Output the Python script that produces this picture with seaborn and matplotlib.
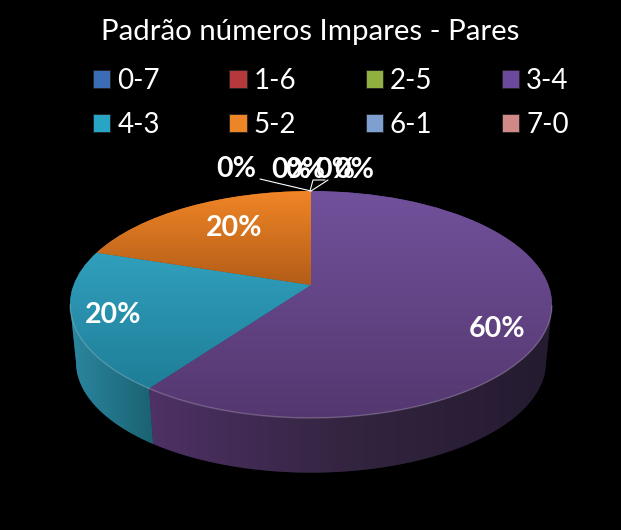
import numpy as np
import matplotlib
matplotlib.use("Agg")
import matplotlib.pyplot as plt
import seaborn as sns
from matplotlib.patches import Patch, Polygon
from matplotlib.transforms import Transform

# Data
title = "Padrão números Impares - Pares"
categories = ["0-7", "1-6", "2-5", "3-4", "4-3", "5-2", "6-1", "7-0"]
percents = [0, 0, 0, 60, 20, 20, 0, 0]
legend_colors = ["#3A6DB5", "#B5393A", "#90B040", "#6B4A9B", "#28A5C5", "#EC8526", "#7F9FD0", "#CF8A88"]

# top face gradient (far, near) and side gradient (left to right)
top_shades = {"3-4": ("#71519B", "#54376F"), "4-3": ("#31A0BD", "#1F7E98"), "5-2": ("#F08526", "#B25D18")}
side_shades = {"3-4": ("#4E3166", "#33243F", "#241B30"), "4-3": ("#2B87A0", "#1B6272"), "5-2": ("#B25D18", "#7A3F10")}

# pie geometry in pixels, fitted on the picture
CX, CY = 311, 285
A, B, K = 237.4, 110.1, 0.1717
DEPTH, SHRINK = 58, 0.975


class Perspective(Transform):
    input_dims = 2
    output_dims = 2

    def __init__(self, scale=1.0, drop=0.0):
        super().__init__()
        self.scale = scale
        self.drop = drop

    def transform_non_affine(self, values):
        values = np.asarray(values)
        u, v = values[:, 0], values[:, 1]
        w = 1 + K * v
        return np.column_stack([CX + self.scale * A * u / w,
                                CY + self.drop - self.scale * B * v / w])


def front_rim(wedge):
    # only the part of the arc that faces the viewer
    th = np.radians(np.linspace(wedge.theta1, wedge.theta2, 300))
    th = th[np.sin(th) <= -K]
    return np.column_stack([np.cos(th), np.sin(th)])


sns.set_theme(style="dark", rc={"figure.facecolor": "black", "axes.facecolor": "black", "text.color": "white"})
plt.rcParams["font.family"] = ["Lato", "DejaVu Sans"]

fig = plt.figure(figsize=(6.21, 5.30), dpi=100)
ax = fig.add_axes([0, 0, 1, 1])

wedges, _ = ax.pie(percents, startangle=90, counterclock=False, radius=1, normalize=True)

ax.set_aspect("auto")
ax.axis("off")

top_proj = Perspective()
low_proj = Perspective(SHRINK, DEPTH)
grad = np.linspace(0, 1, 256).reshape(-1, 1)
fade = np.linspace(0, 1, 256).reshape(1, -1)

# sides first, the top faces cover what is behind
for name, wedge, pct in zip(categories, wedges, percents):
    if pct == 0:
        wedge.set_visible(False)
        continue
    rim = front_rim(wedge)
    if len(rim) == 0:
        continue
    pts = np.vstack([top_proj.transform(rim), low_proj.transform(rim)[::-1]])
    side = Polygon(pts, closed=True, facecolor=side_shades[name][-1], edgecolor="none", zorder=1)
    ax.add_patch(side)
    x0, x1 = pts[:, 0].min(), pts[:, 0].max()
    y0, y1 = pts[:, 1].min(), pts[:, 1].max()
    cmap = sns.blend_palette(side_shades[name], as_cmap=True)
    im = ax.imshow(fade, cmap=cmap, extent=[x0, x1, y1, y0], aspect="auto", zorder=1.5)
    im.set_clip_path(side)

for name, wedge, pct in zip(categories, wedges, percents):
    if pct == 0:
        continue
    wedge.set_transform(top_proj + ax.transData)
    wedge.set_facecolor(top_shades[name][1])
    wedge.set_edgecolor("none")
    wedge.set_zorder(2)
    box = wedge.get_path().vertices * wedge.r + np.array(wedge.center)
    px = top_proj.transform(box)
    cmap = sns.blend_palette(top_shades[name], as_cmap=True)
    im = ax.imshow(grad, cmap=cmap, extent=[px[:, 0].min(), px[:, 0].max(), px[:, 1].max(), px[:, 1].min()],
                   aspect="auto", zorder=2.5)
    im.set_clip_path(wedge)
    # lighter rim on the front edge
    rim = front_rim(wedge)
    if len(rim):
        rim = top_proj.transform(rim)
        ax.plot(rim[:, 0], rim[:, 1], color="white", alpha=0.22, lw=1, zorder=3)

ax.set_xlim(0, 621)
ax.set_ylim(530, 0)

# value labels
label_pos = {"3-4": (497, 329), "4-3": (113, 315), "5-2": (234, 228), "0-7": (305, 170),
             "1-6": (335, 170), "2-5": (354, 170), "6-1": (236, 169), "7-0": (291, 170)}
for name, pct in zip(categories, percents):
    ax.text(*label_pos[name], f"{pct}%", color="white", fontsize=20.5, fontweight="bold",
            ha="center", va="center", zorder=5)

# leader lines of the empty slices
for xs, ys in [((311, 260), (191, 179)), ((310, 313, 325), (191, 180, 180)), ((311, 328), (191, 180))]:
    ax.plot(xs, ys, color="white", lw=0.8, zorder=4)

ax.text(310, 32, title, color="white", fontsize=21.2, ha="center", va="center")

# legend is filled by column, so feed it row by row
handles = [Patch(facecolor=c, edgecolor="#222222", lw=0.6, label=n) for n, c in zip(categories, legend_colors)]
order = [0, 4, 1, 5, 2, 6, 3, 7]
ax.legend([handles[i] for i in order], [categories[i] for i in order], ncol=4, frameon=False,
          fontsize=20, labelcolor="white", handlelength=0.62, handleheight=0.62, handletextpad=0.25,
          columnspacing=2.5, labelspacing=0.63, loc="center", bbox_to_anchor=(331 / 621, 1 - 103 / 530))

fig.savefig("out.png", dpi=100, facecolor="black")
